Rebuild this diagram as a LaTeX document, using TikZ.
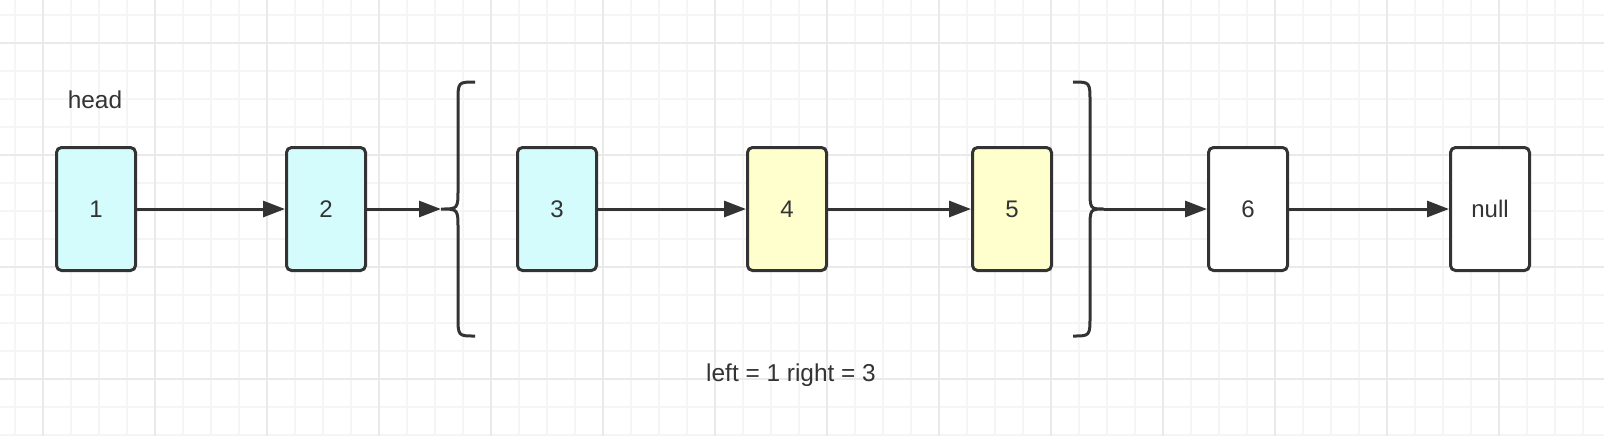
\documentclass[tikz,border=0pt]{standalone}
\usepackage{fontspec}
\setmainfont{Liberation Sans}
\usetikzlibrary{arrows.meta}
\definecolor{ink}{RGB}{51,51,51}
\definecolor{cyanfill}{RGB}{212,252,252}
\definecolor{yellowfill}{RGB}{255,255,206}
\definecolor{gridminor}{RGB}{245,245,245}
\definecolor{gridmajor}{RGB}{234,234,234}
\tikzset{
  cell/.style={draw=ink, line width=1.5pt, rounded corners=2.5pt, fill=white,
    minimum width=39.5pt, minimum height=61.5pt, inner sep=0pt, text=ink,
    font=\fontsize{12}{14}\selectfont},
  link/.style={draw=ink, line width=1.5pt, -{Triangle[length=11pt,width=8pt]}},
  bracket/.style={draw=ink, line width=1.5pt},
  lbl/.style={text=ink, font=\fontsize{12.2}{14}\selectfont}
}
\begin{document}
\begin{tikzpicture}[x=0.5pt, y=-0.5pt]
    \useasboundingbox (0,0) rectangle (1604,436);
    \fill[white] (0,0) rectangle (1604,436);
    % grid
    \foreach \x in {15,43,...,1604} \draw[gridminor, line width=1pt] (\x,0) -- (\x,436);
    \foreach \y in {15,43,...,436} \draw[gridminor, line width=1pt] (0,\y) -- (1604,\y);
    \foreach \x in {43,155,...,1604} \draw[gridmajor, line width=1pt] (\x,0) -- (\x,436);
    \foreach \y in {43,155,...,436} \draw[gridmajor, line width=1pt] (0,\y) -- (1604,\y);

    \node[lbl] (head) at (95,100) {head};

    \node[cell, fill=cyanfill] (n1) at (96,209) {1};
    \node[cell, fill=cyanfill] (n2) at (326,209) {2};
    \node[cell, fill=cyanfill] (n3) at (557,209) {3};
    \node[cell, fill=yellowfill] (n4) at (787,209) {4};
    \node[cell, fill=yellowfill] (n5) at (1012,209) {5};
    \node[cell] (n6) at (1248,209) {6};
    \node[cell] (nnull) at (1490,209) {null};

    \node[lbl] (range) at (791,375) {left = 1 right = 3};

    % braces
    \draw[bracket] (475,82) .. controls (458,82) .. (458,102) -- (458,189)
        .. controls (458,209) .. (441,209) .. controls (458,209) .. (458,229)
        -- (458,316) .. controls (458,336) .. (475,336);
    \draw[bracket] (1073,82) .. controls (1090,82) .. (1090,102) -- (1090,189)
        .. controls (1090,209) .. (1104,209) .. controls (1090,209) .. (1090,229)
        -- (1090,316) .. controls (1090,336) .. (1073,336);
    \coordinate (lb) at (441,209);
    \coordinate (rb) at (1104,209);

    \draw[link] (n1) -- (n2);
    \draw[link] (n2) -- (lb);
    \draw[link] (n3) -- (n4);
    \draw[link] (n4) -- (n5);
    \draw[link] (rb) -- (n6);
    \draw[link] (n6) -- (nnull);
\end{tikzpicture}
\end{document}
